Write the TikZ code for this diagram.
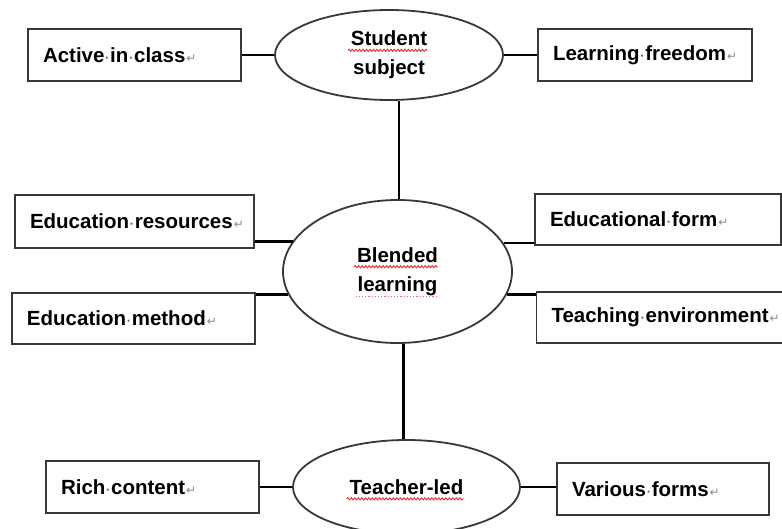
\documentclass[tikz,border=0pt]{standalone}
\usepackage{fontspec}
\setmainfont{Liberation Sans}
\newfontfamily\markfont{DejaVu Sans}
\usetikzlibrary{shapes.geometric,calc,decorations.pathmorphing}
\definecolor{Edge}{HTML}{383838}
\definecolor{Mark}{HTML}{8C8C8C}
\definecolor{Squiggle}{HTML}{E52A2A}

% spell-check marks under words
\newsavebox\markbox
\newdimen\markwd
\newcommand\redwave[1]{\sbox\markbox{#1}\markwd=\wd\markbox
  \rlap{\tikz[overlay,baseline=0pt]\draw[Squiggle,line width=0.85pt,decorate,
    decoration={snake,amplitude=1.1pt,segment length=3.5pt}]
    (-3pt,-4.5pt) -- (\markwd,-4.5pt);}\usebox\markbox}
\newcommand\reddots[1]{\sbox\markbox{#1}\markwd=\wd\markbox
  \rlap{\tikz[overlay,baseline=0pt]\draw[Squiggle!70,line width=1.3pt,
    dash pattern=on 1.2pt off 2pt] (-2pt,-5.5pt) -- (\markwd,-5.5pt);}\usebox\markbox}
% formatting marks: word space and paragraph end
\newcommand\wsp{\makebox[\fontdimen2\font]{\color{Edge!80}\fontsize{13}{13}\selectfont\textperiodcentered}}
\newcommand\eol{\kern1pt{\color{Mark}\markfont\mdseries\fontsize{12}{12}\selectfont ↵}}

\tikzset{
  label font/.style={font=\fontsize{20.5}{29}\selectfont\bfseries},
  box/.style={rectangle,draw=Edge,line width=1.5pt,label font,
    minimum height=52pt,inner xsep=15pt,inner ysep=0pt,align=left},
  hub/.style={ellipse,draw=Edge,line width=1.8pt,label font,
    inner sep=0pt,align=center},
  link/.style={line width=2.8pt,draw=black}
}

\begin{document}
\begin{tikzpicture}[x=1pt,y=-1pt]
  \clip (0,0) rectangle (782,529);
  \fill[white] (0,0) rectangle (782,529);

  % the three ellipses down the middle
  \node[hub,minimum width=228pt,minimum height=90pt] (student) at (389,55)
    {\redwave{Student}\\subject};
  \node[hub,minimum width=229pt,minimum height=143pt] (blended) at (397.5,271.5)
    {\redwave{Blended}\\\reddots{learning}};
  \node[hub,minimum width=227pt,minimum height=94pt] (teacher) at (406.5,487)
    {\redwave{Teacher-led}};

  % boxes on both sides
  \node[box,text width=183pt,minimum height=52pt] (active) at (134.5,55)
    {Active\wsp in\wsp class\eol};
  \node[box,text width=184pt,minimum height=52pt] (freedom) at (645,55)
    {Learning\wsp freedom\eol};
  \node[box,text width=209pt,minimum height=53pt] (resources) at (134.5,221.5)
    {Education\wsp resources\eol};
  \node[box,text width=213pt,minimum height=51pt] (method) at (133.5,318.5)
    {Education\wsp method\eol};
  \node[box,text width=216pt,minimum height=51pt] (form) at (658,219.5)
    {Educational\wsp form\eol};
  \node[box,text width=216pt,minimum height=51pt] (environment) at (659.5,317.5)
    {Teaching\wsp environment\eol};
  \node[box,text width=183pt,minimum height=52pt] (rich) at (152.5,487)
    {Rich\wsp content\eol};
  \node[box,text width=182pt,minimum height=52pt] (various) at (663,489)
    {Various\wsp forms\eol};

  % connectors
  \draw[link] (student.west) -- (student.west -| active.east);
  \draw[link] (student.east) -- (student.east -| freedom.west);
  \draw[link] ([xshift=1.5pt]blended.north) -- ([xshift=1.5pt]blended.north |- student.south);
  \draw[link] (blended.164.8) -- (blended.164.8 -| resources.east);
  \draw[link] (blended.192.3) -- (blended.192.3 -| method.east);
  \draw[link] (blended.15.8) -- (blended.15.8 -| form.west);
  \draw[link] (blended.348.9) -- (blended.348.9 -| environment.west);
  \draw[link] ([xshift=-3pt]teacher.north) -- ([xshift=-3pt]teacher.north |- blended.south);
  \draw[link] (teacher.west) -- (teacher.west -| rich.east);
  \draw[link] (teacher.east) -- (teacher.east -| various.west);
\end{tikzpicture}
\end{document}
